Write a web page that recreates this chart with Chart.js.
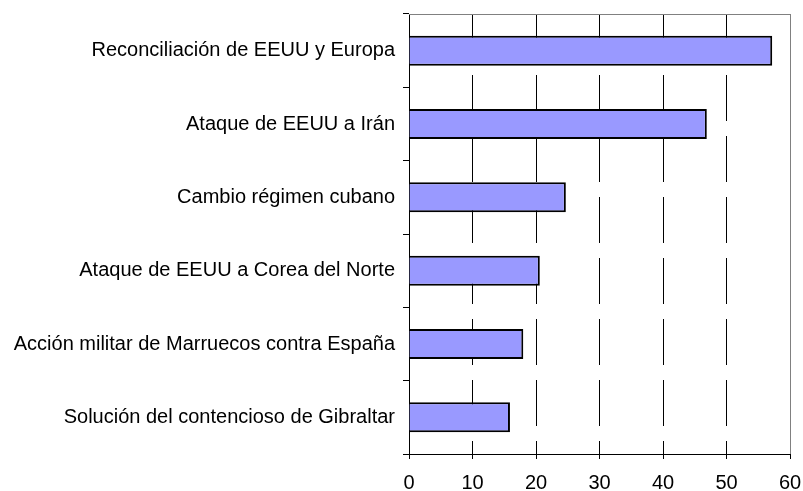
<!DOCTYPE html>
<html lang="es">
<head>
  <meta charset="UTF-8" />
  <title>Encuesta</title>
  <script src="https://cdn.jsdelivr.net/npm/chart.js"></script>
  <style>
    html, body { margin: 0; padding: 0; background: #fff; }
    #wrap { width: 803px; height: 491px; position: relative; }
  </style>
</head>
<body>
  <div id="wrap"><canvas id="chart"></canvas></div>
  <script>
    // datos
    const categories = [
      "Reconciliación de EEUU y Europa",
      "Ataque de EEUU a Irán",
      "Cambio régimen cubano",
      "Ataque de EEUU a Corea del Norte",
      "Acción militar de Marruecos contra España",
      "Solución del contencioso de Gibraltar"
    ];
    const values = [57.2, 46.9, 24.7, 20.6, 18.0, 15.9];
    const xTicks = [0, 10, 20, 30, 40, 50, 60];

    const font = { family: "'Liberation Sans', Arial, sans-serif", size: 20 };

    // linea gris superior del area de trazado
    const topBorder = {
      id: "topBorder",
      beforeDatasetsDraw(chart) {
        const { ctx, chartArea: a } = chart;
        ctx.save();
        ctx.strokeStyle = "#808080";
        ctx.lineWidth = 1;
        ctx.beginPath();
        ctx.moveTo(a.left, Math.round(a.top) + 0.5);
        ctx.lineTo(a.right, Math.round(a.top) + 0.5);
        ctx.stroke();
        ctx.restore();
      }
    };

    new Chart(document.getElementById("chart"), {
      type: "bar",
      data: {
        labels: categories,
        datasets: [{
          data: values,
          backgroundColor: "#9999ff",
          borderColor: "#000",
          borderWidth: 2,
          categoryPercentage: 1,
          barPercentage: 0.41
        }]
      },
      options: {
        indexAxis: "y",
        responsive: true,
        maintainAspectRatio: false,
        animation: false,
        layout: { padding: { top: 14, right: 13, left: 0, bottom: 0 } },
        plugins: { legend: { display: false }, tooltip: { enabled: false } },
        scales: {
          x: {
            min: 0, max: 60,
            afterBuildTicks: s => { s.ticks = xTicks.map(v => ({ value: v })); },
            afterFit: s => { s.height = 37; s.paddingLeft = 0; s.paddingRight = 0; },
            ticks: { color: "#000", font: font, padding: 12 },
            grid: {
              color: c => c.tick && c.tick.value === 60 ? "#808080" : (c.tick && c.tick.value === 0 ? "transparent" : "#000"),
              tickColor: "#000",
              tickLength: 5,
              lineWidth: 1
            },
            border: {
              color: "#000",
              width: 1,
              dash: c => c.tick && c.tick.value === 60 ? [] : [46, 15]
            }
          },
          y: {
            afterFit: s => { s.width = 409; s.paddingTop = 0; s.paddingBottom = 0; },
            ticks: { color: "#000", font: font, padding: 8 },
            grid: {
              offset: true,
              color: "transparent",
              tickColor: "#000",
              tickLength: 6
            },
            border: { color: "#000", width: 1 }
          }
        }
      },
      plugins: [topBorder]
    });
  </script>
</body>
</html>
